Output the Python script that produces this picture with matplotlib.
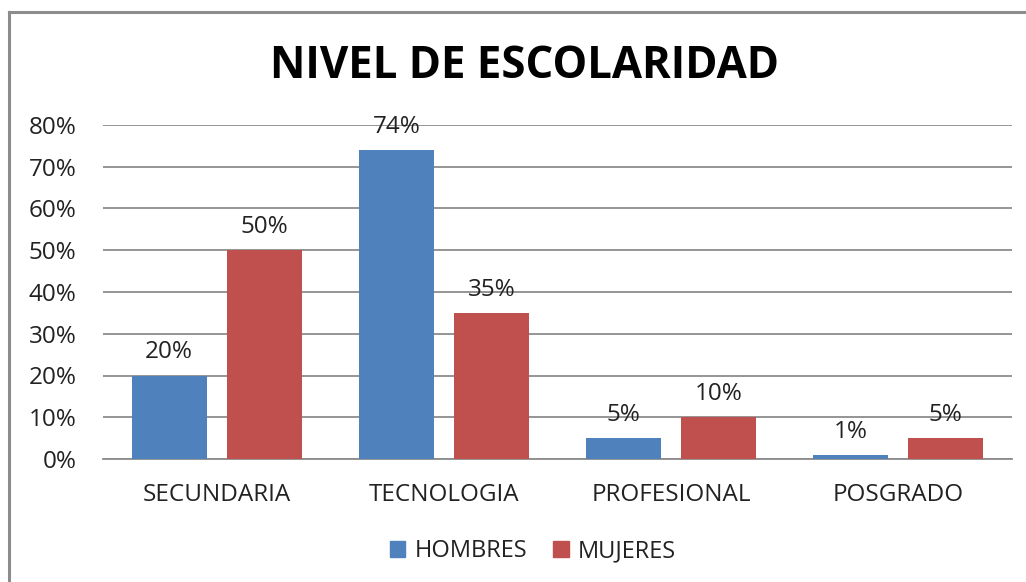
import numpy as np
import matplotlib.pyplot as plt
from matplotlib.lines import Line2D
from matplotlib.patches import Patch

categorias = ['SECUNDARIA', 'TECNOLOGIA', 'PROFESIONAL', 'POSGRADO']
hombres = [0.20, 0.74, 0.05, 0.01]
mujeres = [0.50, 0.35, 0.10, 0.05]
etiquetas_y = ['0%', '10%', '20%', '30%', '40%', '50%', '60%', '70%', '80%']

plt.rcParams['font.family'] = ['Open Sans', 'DejaVu Sans']

AZUL = '#4F81BD'
ROJO = '#C0504D'
GRIS = '#8C8C8C'

W, H = 1026, 582
fig = plt.figure(figsize=(W / 100, H / 100), dpi=100)
ax = fig.add_axes([103 / W, 1 - 459 / H, (1012 - 103) / W, (459 - 125) / H])

x = np.arange(len(categorias))
ancho = 0.33
off = 0.209
b1 = ax.bar(x - off, hombres, ancho, color=AZUL, zorder=3)
b2 = ax.bar(x + off, mujeres, ancho, color=ROJO, zorder=3)

for barras, vals in ((b1, hombres), (b2, mujeres)):
    for b, v in zip(barras, vals):
        ax.annotate('%d%%' % round(v * 100), (b.get_x() + b.get_width() / 2, v),
                    xytext=(0, 8), textcoords='offset points',
                    ha='center', va='bottom', fontsize=17.5, color='#222222')

ax.set_xlim(-0.5, 3.5)
ax.set_ylim(0, 0.8)
ax.set_yticks(np.arange(0, 0.81, 0.1))
ax.set_yticklabels(etiquetas_y)
ax.set_xticks(x)
ax.set_xticklabels(categorias)
ax.tick_params(axis='y', length=0, pad=19, labelsize=17.5, labelcolor='#222222')
ax.tick_params(axis='x', length=0, pad=17.5, labelsize=17.5, labelcolor='#222222')
ax.yaxis.grid(True, color=GRIS, linewidth=1.3, zorder=0)
for s in ('top', 'right', 'left'):
    ax.spines[s].set_visible(False)
ax.spines['bottom'].set_color(GRIS)
ax.spines['bottom'].set_linewidth(1.3)

fig.text(525 / W, 1 - 66 / H, 'NIVEL DE ESCOLARIDAD', ha='center', va='center',
         fontsize=31.5, fontweight='bold', color='black')

handles = [Patch(color=AZUL, label='HOMBRES'), Patch(color=ROJO, label='MUJERES')]
fig.legend(handles=handles, loc='center', bbox_to_anchor=(533 / W, 1 - 551 / H),
           ncol=2, frameon=False, fontsize=17, handlelength=0.65, handleheight=0.65,
           handletextpad=0.4, columnspacing=1.1, labelcolor='#222222')

fig.add_artist(Line2D([9 / W, 1], [1 - 12 / H, 1 - 12 / H], color=GRIS, linewidth=2.2,
                      transform=fig.transFigure))
fig.add_artist(Line2D([9 / W, 9 / W], [1 - 12 / H, 0], color=GRIS, linewidth=2.2,
                      transform=fig.transFigure))

fig.savefig('out.png', dpi=100, facecolor='white')
